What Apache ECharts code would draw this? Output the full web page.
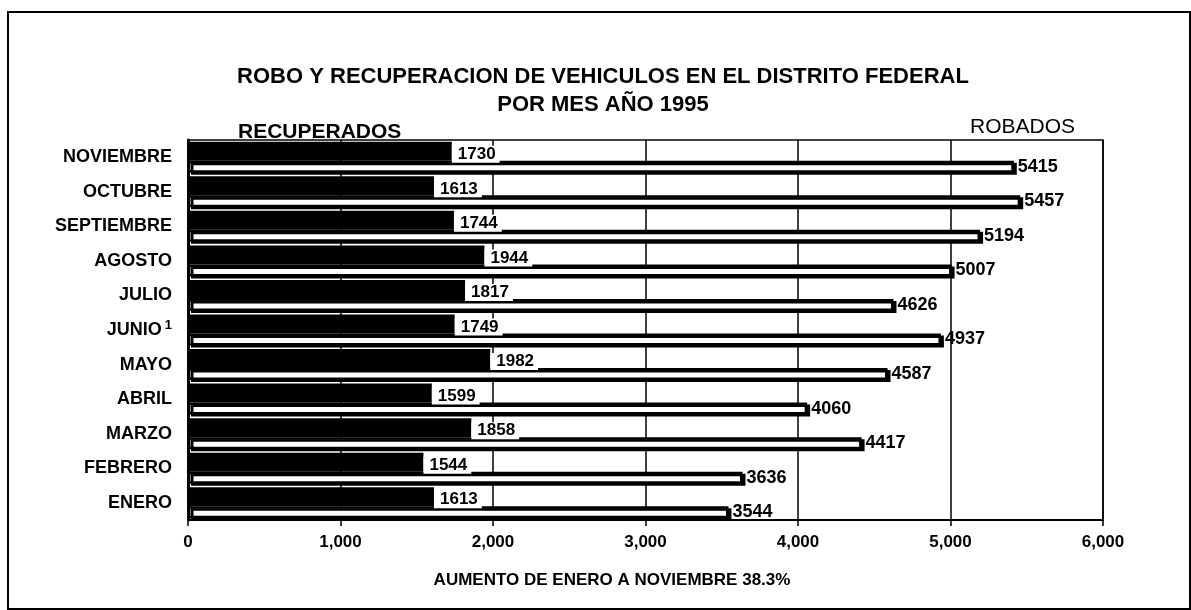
<!DOCTYPE html>
<html><head><meta charset="utf-8">
<script src="https://cdn.jsdelivr.net/npm/echarts@6/dist/echarts.min.js"></script>
<style>html,body{margin:0;padding:0;background:#fff}#c{width:1191px;height:610px}</style>
</head><body><div id="c"></div>
<script>
const months = ['ENERO','FEBRERO','MARZO','ABRIL','MAYO','JUNIO','JULIO','AGOSTO','SEPTIEMBRE','OCTUBRE','NOVIEMBRE'];
const robados = [3544, 3636, 4417, 4060, 4587, 4937, 4626, 5007, 5194, 5457, 5415];
const recuperados = [1613, 1544, 1858, 1599, 1982, 1749, 1817, 1944, 1744, 1613, 1730];
const xTicks = [0, 1000, 2000, 3000, 4000, 5000, 6000];

const chart = echarts.init(document.getElementById('c'));
const F = '"Liberation Sans", Arial, sans-serif';
chart.setOption({
  backgroundColor: '#fff',
  animation: false,
  title: {
    text: 'ROBO Y RECUPERACION DE VEHICULOS EN EL DISTRITO FEDERAL\nPOR MES AÑO 1995',
    left: 598, textAlign: 'center', top: 58,
    textStyle: {fontFamily: F, fontWeight: 'bold', fontSize: 22, color: '#000', lineHeight: 28}
  },
  grid: {left: 188, right: 88, top: 140, bottom: 90, show: true, borderColor: '#000', borderWidth: 1.5, backgroundColor: 'transparent'},
  xAxis: {
    type: 'value', min: xTicks[0], max: xTicks[xTicks.length-1], interval: 1000,
    axisLine: {show: true, lineStyle: {color: '#000', width: 2}},
    axisTick: {show: true, length: 6, lineStyle: {color: '#000', width: 1.5}},
    axisLabel: {fontFamily: F, fontWeight: 'bold', fontSize: 17, color: '#000', margin: 14,
      formatter: v => v.toLocaleString('en-US')},
    splitLine: {show: true, lineStyle: {color: '#000', width: 1.5}}
  },
  yAxis: {
    type: 'category', data: months,
    axisLine: {show: true, lineStyle: {color: '#000', width: 3}},
    axisTick: {show: false},
    axisLabel: {fontFamily: F, fontWeight: 'bold', fontSize: 18, color: '#000', margin: 16,
      formatter: v => v === 'JUNIO' ? 'JUNIO{sup|1}' : v,
      rich: {sup: {fontFamily: F, fontWeight: 'bold', fontSize: 13, color: '#000', verticalAlign: 'top', padding: [0,0,10,3]}}
    }
  },
  series: [
    {
      name: 'RECUPERADOS', type: 'bar', data: recuperados, barWidth: 19, barGap: '0%',
      itemStyle: {color: '#000'}, z: 3,
      label: {show: true, position: 'right', distance: 0, offset: [0, 3], fontFamily: F, fontWeight: 'bold', fontSize: 17, color: '#000',
        backgroundColor: '#fff', padding: [0, 4, 0, 6]}
    },
    {
      name: 'ROBADOS', type: 'bar', data: robados, barWidth: 12,
      itemStyle: {color: '#fff', borderColor: '#000', borderWidth: 2.5,
        shadowColor: '#000', shadowOffsetX: 3, shadowOffsetY: 2, shadowBlur: 0},
      label: {show: true, position: 'right', distance: 4, fontFamily: F, fontWeight: 'bold', fontSize: 18, color: '#000'}
    }
  ],
  graphic: [
    {type: 'rect', shape: {x: 8, y: 12, width: 1182, height: 597}, style: {fill: 'none', stroke: '#000', lineWidth: 2}, silent: true},
    {type: 'text', left: 238, top: 122, z: -10, style: {text: 'RECUPERADOS', font: 'bold 21px "Liberation Sans", Arial', fill: '#000'}},
    {type: 'text', left: 970, top: 117, style: {text: 'ROBADOS', font: '21px "Liberation Sans", Arial', fill: '#000'}},
    {type: 'text', x: 612, y: 572, style: {text: 'AUMENTO DE ENERO A NOVIEMBRE 38.3%', textAlign: 'center', font: 'bold 17px "Liberation Sans", Arial', fill: '#000'}}
  ]
});
</script></body></html>
